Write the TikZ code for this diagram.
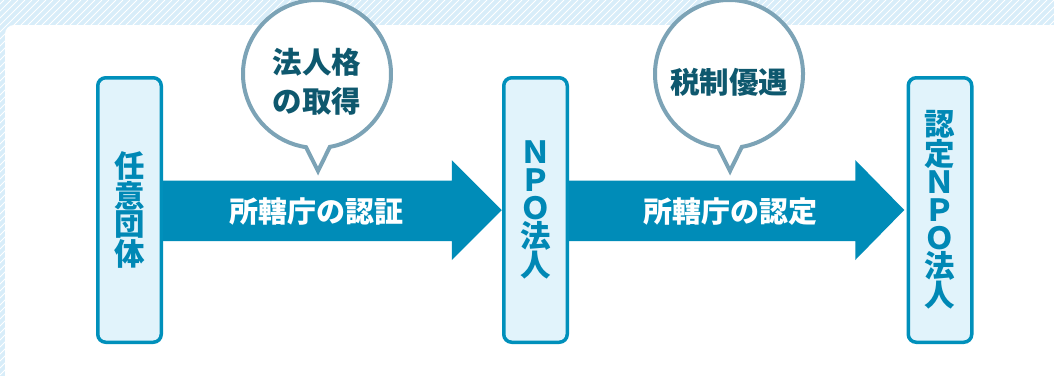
\documentclass[tikz,border=0pt]{standalone}
\usepackage{fontspec}
\newfontfamily\cjk{Noto Sans CJK JP}
\usetikzlibrary{calc}
\definecolor{bgblue}{RGB}{216,237,249}
\definecolor{arrowblue}{RGB}{0,140,184}
\definecolor{boxfill}{RGB}{225,243,251}
\definecolor{boxline}{RGB}{0,144,187}
\definecolor{boxtext}{RGB}{0,136,181}
\definecolor{bubline}{RGB}{124,163,182}
\definecolor{bubtext}{RGB}{14,88,110}
\pgfdeclarelayer{bglayer}
\pgfdeclarelayer{arrowlayer}
\pgfsetlayers{bglayer,arrowlayer,main}
\tikzset{
  stagebox/.style={draw=boxline, fill=boxfill, line width=3.5pt, rounded corners=8pt,
    minimum width=63.5pt, minimum height=264.5pt, inner sep=0pt, outer sep=0pt,
    text=boxtext, align=center, font=\cjk\bfseries\fontsize{30.5}{28}\selectfont},
  bubble/.style={draw=bubline, fill=white, line width=4pt, line join=miter},
  bubtxt/.style={text=bubtext, align=center, inner sep=0pt,
    font=\cjk\bfseries\fontsize{29.5}{39}\selectfont},
  arrtxt/.style={text=white, inner sep=0pt, font=\cjk\bfseries\fontsize{29}{30}\selectfont},
  fatarrow/.style={fill=arrowblue}
}
\begin{document}
\begin{tikzpicture}[x=1pt,y=-1pt]
\useasboundingbox (0,0) rectangle (1054,376);
\clip (0,0) rectangle (1054,376);
\begin{pgfonlayer}{bglayer}
\fill[bgblue] (0,0) rectangle (1054,376);
\foreach \i in {-400,-393,...,1060} \draw[white, line width=0.9pt] (\i,376) -- (\i+376,0);
\fill[white, rounded corners=9pt] (5,25) rectangle (1090,420);
\end{pgfonlayer}

% boxes
\node[stagebox] (b1) at (129.5,210) {任\\意\\団\\体};
\node[stagebox] (b2) at (535.5,210) {Ｎ\\Ｐ\\Ｏ\\法\\人};
\node[stagebox] (b3) at (940,210) {認\\定\\Ｎ\\Ｐ\\Ｏ\\法\\人};

% fat arrows
\begin{pgfonlayer}{arrowlayer}
\fill[fatarrow] ($(b1.east)+(0,-29.5)$) -- ($(b2.west)+(-52,-29.5)$) -- ($(b2.west)+(-52,-50)$)
  -- ($(b2.west)+(-2,0)$) -- ($(b2.west)+(-52,50)$) -- ($(b2.west)+(-52,31)$)
  -- ($(b1.east)+(0,31)$) -- cycle;
\fill[fatarrow] ($(b2.east)+(0,-29.5)$) -- ($(b3.west)+(-53,-29.5)$) -- ($(b3.west)+(-53,-50)$)
  -- ($(b3.west)+(-4,0)$) -- ($(b3.west)+(-53,50)$) -- ($(b3.west)+(-53,31)$)
  -- ($(b2.east)+(0,31)$) -- cycle;
\end{pgfonlayer}
\node[arrtxt] (t1) at (316,212) {所轄庁の認証};
\node[arrtxt] (t2) at (730,212) {所轄庁の認定};

% bubbles
\coordinate (c1) at (317,74);
\coordinate (tip1) at (318,171);
\draw[bubble] ($(c1)+(80:74)$) arc[start angle=80, end angle=-261.5, radius=74] -- (tip1) -- cycle;
\node[bubtxt] (q1) at (317,82) {法人格\\の取得};

\coordinate (c2) at (729,74);
\coordinate (tip2) at (730,171);
\draw[bubble] ($(c2)+(80:74)$) arc[start angle=80, end angle=-261.5, radius=74] -- (tip2) -- cycle;
\node[bubtxt] (q2) at (729,82) {税制優遇};
\end{tikzpicture}
\end{document}
